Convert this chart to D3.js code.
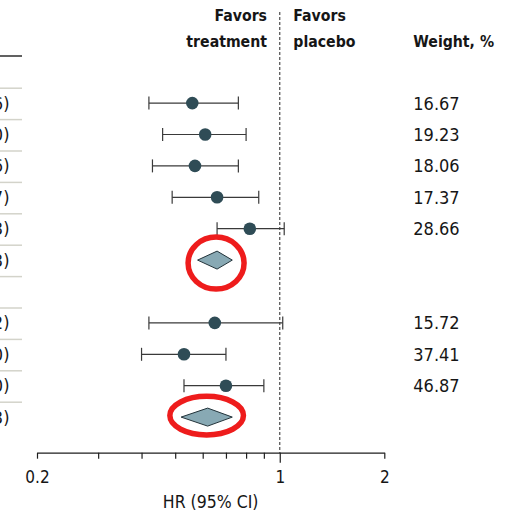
<!DOCTYPE html>
<html>
<head>
<meta charset="utf-8">
<script src="https://cdn.jsdelivr.net/npm/d3@7"></script>
<style>
  html, body { margin: 0; padding: 0; background: #fff; }
  svg { display: block; }
  text { font-family: "DejaVu Sans Condensed", "DejaVu Sans", sans-serif; fill: #161616; }
</style>
</head>
<body>
<svg id="chart" width="511" height="514"></svg>
<script>
// Row kinds: "group" = subgroup header row, "study" = single estimate, "pooled" = summary diamond
const rowKinds  = ["group", "study", "study", "study", "study", "study", "pooled",
                   "group", "study", "study", "pooled"];
const estimates = [null, 0.56, 0.61, 0.57, 0.66, 0.82, 0.66, null, 0.65, 0.53, 0.70, 0.62];
const lowerCI   = [null, 0.42, 0.46, 0.43, 0.49, 0.66, 0.58, null, 0.42, 0.40, 0.53, 0.52];
const upperCI   = [null, 0.76, 0.80, 0.76, 0.87, 1.03, 0.73, null, 1.02, 0.70, 0.90, 0.73];
const weights   = [null, "16.67", "19.23", "18.06", "17.37", "28.66", null,
                   null, "15.72", "37.41", "46.87", null];
const axisTicks  = [0.2, 0.3, 0.4, 0.5, 0.6, 0.7, 0.8, 0.9, 1, 2];
const axisLabels = ["0.2", "1", "2"];

// fix rowKinds length to match the value arrays (12 rows)
rowKinds.splice(7, 0); 
const kinds = ["group", "study", "study", "study", "study", "study", "pooled",
               "group", "study", "study", "study", "pooled"];

const svg = d3.select("#chart");

const x = d3.scaleLog().domain([0.2, 2]).range([37, 384.3]);
const rowTop = 56, rowH = 31.4;
const yc = i => rowTop + rowH * (i + 0.5);
const axisY = 452.7;

const fmt = d3.format(".2f");

// left-hand table remnants: header rule and row separators
svg.append("line")
  .attr("x1", 0).attr("x2", 22).attr("y1", rowTop).attr("y2", rowTop)
  .attr("stroke", "#1e1e1e").attr("stroke-width", 1.4);

svg.append("g").selectAll("line")
  .data(d3.range(1, kinds.length))
  .join("line")
  .attr("x1", 0).attr("x2", 22)
  .attr("y1", k => rowTop + rowH * k + 0.8)
  .attr("y2", k => rowTop + rowH * k + 0.8)
  .attr("stroke", "#d3d3ca").attr("stroke-width", 1.5);

// HR (95% CI) text column, right-aligned at the left edge
svg.append("g").selectAll("text")
  .data(kinds.map((k, i) => i).filter(i => kinds[i] !== "group"))
  .join("text")
  .attr("x", 9.5)
  .attr("y", i => yc(i) + 6.5)
  .attr("text-anchor", "end")
  .style("font-size", "18px")
  .text(i => `${fmt(estimates[i])} (${fmt(lowerCI[i])}-${fmt(upperCI[i])})`);

// reference line at HR = 1
svg.append("line")
  .attr("x1", x(1)).attr("x2", x(1))
  .attr("y1", 12).attr("y2", axisY)
  .attr("stroke", "#4a4a4a").attr("stroke-width", 1.2)
  .attr("stroke-dasharray", "3,2");

// column headers
const head = svg.append("g").style("font-weight", "bold").style("font-size", "15.7px");
head.append("text").attr("x", 267).attr("y", 20.7).attr("text-anchor", "end").text("Favors");
head.append("text").attr("x", 267).attr("y", 46.5).attr("text-anchor", "end").text("treatment");
head.append("text").attr("x", 293.3).attr("y", 20.7).text("Favors");
head.append("text").attr("x", 293.3).attr("y", 46.5).text("placebo");
head.append("text").attr("x", 413.3).attr("y", 46.5).text("Weight, %");

// study estimates with confidence intervals
const studies = kinds.map((k, i) => i).filter(i => kinds[i] === "study");
const capH = 6.5;
const gStudy = svg.append("g");
gStudy.selectAll("line.ci")
  .data(studies).join("line").attr("class", "ci")
  .attr("x1", i => x(lowerCI[i])).attr("x2", i => x(upperCI[i]))
  .attr("y1", i => yc(i)).attr("y2", i => yc(i))
  .attr("stroke", "#3a3a3a").attr("stroke-width", 1.2);
gStudy.selectAll("line.capL")
  .data(studies).join("line").attr("class", "capL")
  .attr("x1", i => x(lowerCI[i])).attr("x2", i => x(lowerCI[i]))
  .attr("y1", i => yc(i) - capH).attr("y2", i => yc(i) + capH)
  .attr("stroke", "#3a3a3a").attr("stroke-width", 1.2);
gStudy.selectAll("line.capR")
  .data(studies).join("line").attr("class", "capR")
  .attr("x1", i => x(upperCI[i])).attr("x2", i => x(upperCI[i]))
  .attr("y1", i => yc(i) - capH).attr("y2", i => yc(i) + capH)
  .attr("stroke", "#3a3a3a").attr("stroke-width", 1.2);
gStudy.selectAll("circle")
  .data(studies).join("circle")
  .attr("cx", i => x(estimates[i])).attr("cy", i => yc(i))
  .attr("r", 6.3).attr("fill", "#2f4c56");

// pooled estimates as diamonds
const pooled = kinds.map((k, i) => i).filter(i => kinds[i] === "pooled");
svg.append("g").selectAll("path")
  .data(pooled).join("path")
  .attr("d", i => {
    const c = yc(i), h = 9;
    return `M${x(lowerCI[i])},${c}L${x(estimates[i])},${c - h}L${x(upperCI[i])},${c}L${x(estimates[i])},${c + h}Z`;
  })
  .attr("fill", "#88a9b4").attr("stroke", "#22333a").attr("stroke-width", 1);

// weights column
svg.append("g").selectAll("text")
  .data(studies).join("text")
  .attr("x", 413.3).attr("y", i => yc(i) + 6.5)
  .style("font-size", "18px")
  .text(i => weights[i]);

// log-scale axis
const axis = d3.axisBottom(x)
  .tickValues(axisTicks)
  .tickSize(6)
  .tickSizeOuter(0)
  .tickFormat(d => axisLabels.includes(String(d)) ? String(d) : "");
const gAxis = svg.append("g").attr("transform", `translate(0,${axisY})`).call(axis);
gAxis.select(".domain").attr("stroke", "#1e1e1e").attr("stroke-width", 1.2);
gAxis.selectAll(".tick line").attr("stroke", "#1e1e1e").attr("stroke-width", 1.2)
  .attr("y2", d => d === 1 ? 10 : 6);
gAxis.selectAll(".tick text")
  .attr("y", 30).attr("dy", 0)
  .style("font-size", "17px")
  .style("font-family", "'DejaVu Sans Condensed', 'DejaVu Sans', sans-serif")
  .attr("fill", "#161616");

svg.append("text")
  .attr("x", (x(0.2) + x(2)) / 2).attr("y", 508)
  .attr("text-anchor", "middle")
  .style("font-size", "17.5px")
  .text("HR (95% CI)");

// highlight rings around the pooled diamonds
const rings = [{ row: 6, rx: 28, ry: 26, dy: 3 }, { row: 11, rx: 36.8, ry: 19.3, dy: -1.5 }];
svg.append("g").selectAll("ellipse")
  .data(rings).join("ellipse")
  .attr("cx", d => x(estimates[d.row]) - 1)
  .attr("cy", d => yc(d.row) + d.dy)
  .attr("rx", d => d.rx).attr("ry", d => d.ry)
  .attr("fill", "none").attr("stroke", "#ee1c1c").attr("stroke-width", 5.5);
</script>
</body>
</html>
